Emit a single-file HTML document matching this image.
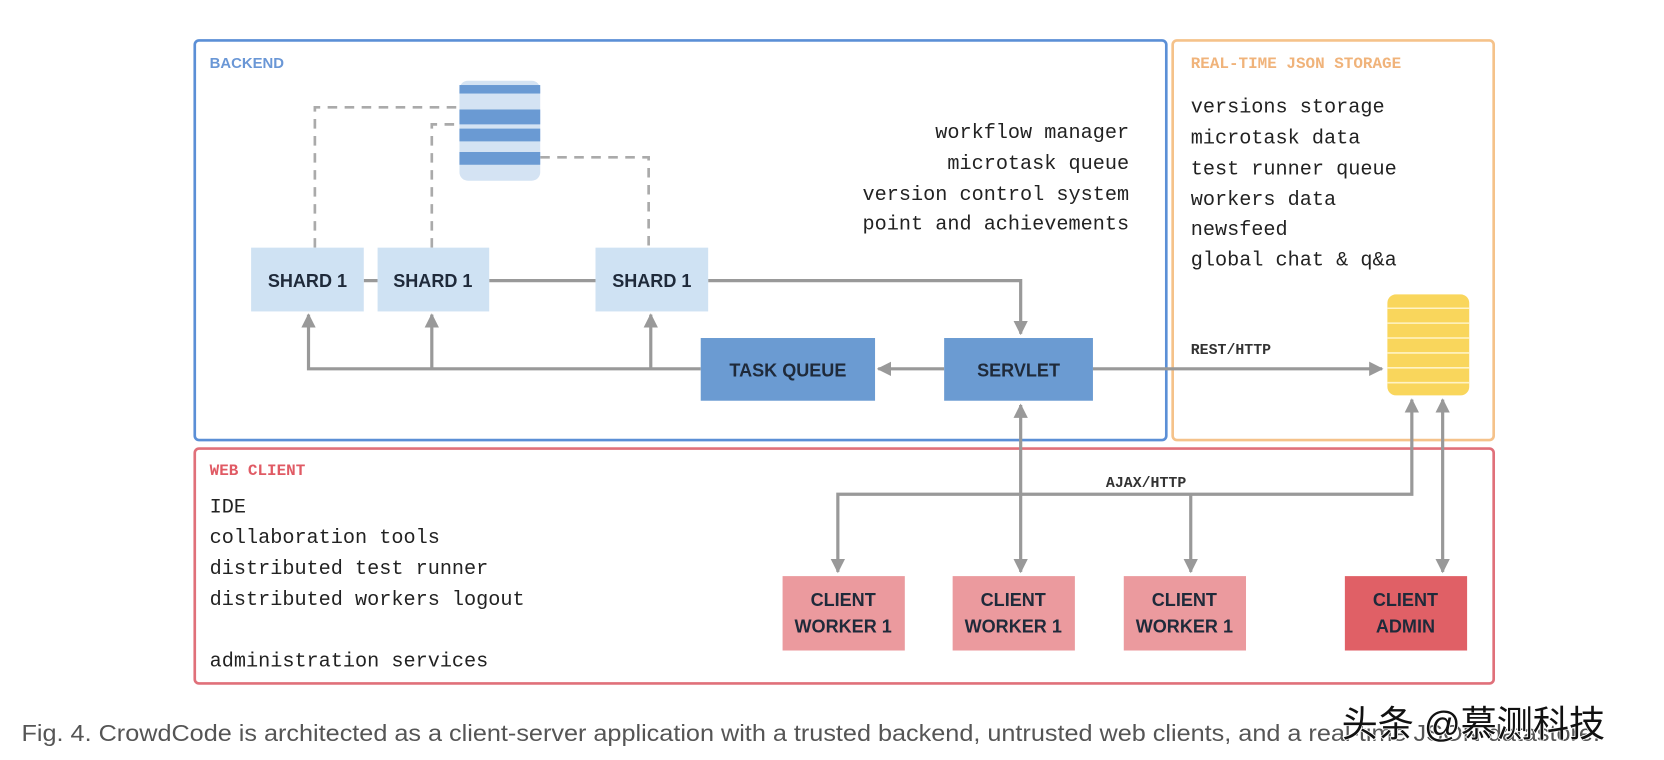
<!DOCTYPE html>
<html><head><meta charset="utf-8"><style>
html,body{margin:0;padding:0;background:#fff;width:1664px;height:760px;overflow:hidden}
svg{display:block}
.m{font-family:"Liberation Mono",monospace;font-size:19px;fill:#222}
.b{font-family:"Liberation Sans",sans-serif;font-weight:bold;font-size:17px;fill:#1f2a3a}
</style></head><body>
<svg width="1664" height="760" viewBox="0 0 1565 715" xmlns="http://www.w3.org/2000/svg">
<defs>
<marker id="a" viewBox="0 0 10 10" refX="9" refY="5" markerWidth="4.5" markerHeight="4.5" orient="auto-start-reverse"><path d="M0,0L10,5L0,10z" fill="#999"/></marker>
</defs>
<rect x="183" y="38" width="914" height="376" rx="4" fill="none" stroke="#5b8fd6" stroke-width="2.5"/>
<rect x="1103" y="38" width="302" height="376" rx="4" fill="none" stroke="#f5c28a" stroke-width="2.5"/>
<rect x="183" y="422" width="1222" height="221" rx="4" fill="none" stroke="#e0707a" stroke-width="2.5"/>
<text x="197" y="64" font-family="Liberation Sans,sans-serif" font-weight="bold" font-size="14" fill="#6a97d6">BACKEND</text>
<text x="1120" y="64" font-family="Liberation Mono,monospace" font-weight="bold" font-size="15" fill="#f0b37a">REAL-TIME JSON STORAGE</text>
<text x="197" y="447" font-family="Liberation Mono,monospace" font-weight="bold" font-size="15" fill="#e05a64">WEB CLIENT</text>
<g class="m" text-anchor="end">
<text x="1062" y="130">workflow manager</text>
<text x="1062" y="159">microtask queue</text>
<text x="1062" y="188">version control system</text>
<text x="1062" y="216">point and achievements</text>
</g>
<g class="m">
<text x="1120" y="106">versions storage</text>
<text x="1120" y="135">microtask data</text>
<text x="1120" y="164">test runner queue</text>
<text x="1120" y="193">workers data</text>
<text x="1120" y="221">newsfeed</text>
<text x="1120" y="250">global chat &amp; q&amp;a</text>
<text x="197" y="482">IDE</text>
<text x="197" y="511">collaboration tools</text>
<text x="197" y="540">distributed test runner</text>
<text x="197" y="569">distributed workers logout</text>
<text x="197" y="627">administration services</text>
</g>
<g fill="none" stroke="#aaa" stroke-width="2.5" stroke-dasharray="9,7">
<path d="M296,233V101H432"/><path d="M406,233V117H432"/><path d="M508,148H610V233"/>
</g>
<rect x="432" y="76" width="76" height="94" rx="8" fill="#d4e3f3"/>
<rect x="432" y="80" width="76" height="8" fill="#6a9ad3"/>
<rect x="432" y="103" width="76" height="14" fill="#6a9ad3"/>
<rect x="432" y="121" width="76" height="12" fill="#6a9ad3"/>
<rect x="432" y="143" width="76" height="12" fill="#6a9ad3"/>
<g fill="none" stroke="#999" stroke-width="3">
<path d="M342,264H355M460,264H560"/>
<path d="M666,264H960V314" marker-end="url(#a)"/>
<path d="M888,347H826" marker-end="url(#a)"/>
<path d="M659,347H290V296" marker-end="url(#a)"/>
<path d="M406,347V296" marker-end="url(#a)"/>
<path d="M612,347V296" marker-end="url(#a)"/>
<path d="M1028,347H1300" marker-end="url(#a)"/>
<path d="M960,381V538" marker-start="url(#a)" marker-end="url(#a)"/>
<path d="M1357,376V538" marker-start="url(#a)" marker-end="url(#a)"/>
<path d="M788,538V465H1328V376" marker-start="url(#a)" marker-end="url(#a)"/>
<path d="M1120,465V538" marker-end="url(#a)"/>
</g>
<text x="1120" y="333" font-family="Liberation Mono,monospace" font-weight="bold" font-size="14" fill="#333">REST/HTTP</text>
<text x="1078" y="458" text-anchor="middle" font-family="Liberation Mono,monospace" font-weight="bold" font-size="14" fill="#333">AJAX/HTTP</text>
<rect x="1305" y="277" width="77" height="95" rx="8" fill="#f9d65c"/>
<g stroke="#fff3c4" stroke-width="1.5"><path d="M1305,290H1382M1305,304H1382M1305,318H1382M1305,332H1382M1305,346H1382M1305,360H1382"/></g>
<g fill="#cfe2f3"><rect x="236" y="233" width="106" height="60"/><rect x="355" y="233" width="105" height="60"/><rect x="560" y="233" width="106" height="60"/></g>
<g class="b" text-anchor="middle"><text x="289" y="270">SHARD 1</text><text x="407" y="270">SHARD 1</text><text x="613" y="270">SHARD 1</text></g>
<rect x="659" y="318" width="164" height="59" fill="#6b9bd2"/>
<rect x="888" y="318" width="140" height="59" fill="#6b9bd2"/>
<g class="b" text-anchor="middle"><text x="741" y="354">TASK QUEUE</text><text x="958" y="354">SERVLET</text></g>
<g fill="#eb9a9e"><rect x="736" y="542" width="115" height="70"/><rect x="896" y="542" width="115" height="70"/><rect x="1057" y="542" width="115" height="70"/></g>
<rect x="1265" y="542" width="115" height="70" fill="#e06066"/>
<g class="b" text-anchor="middle">
<text x="793" y="570">CLIENT</text><text x="793" y="595">WORKER 1</text>
<text x="953" y="570">CLIENT</text><text x="953" y="595">WORKER 1</text>
<text x="1114" y="570">CLIENT</text><text x="1114" y="595">WORKER 1</text>
<text x="1322" y="570">CLIENT</text><text x="1322" y="595">ADMIN</text>
</g>
<text x="20" y="697" font-family="Liberation Sans,sans-serif" font-size="22" fill="#555" textLength="1485" lengthAdjust="spacingAndGlyphs">Fig. 4. CrowdCode is architected as a client-server application with a trusted backend, untrusted web clients, and a real-time JSON datastore.</text>
<text x="1262" y="693" font-family="Liberation Sans,'Noto Sans CJK SC',sans-serif" font-size="34" fill="#111" stroke="#fff" stroke-width="1.5" paint-order="stroke">头条 @慕测科技</text>
</svg>
</body></html>
